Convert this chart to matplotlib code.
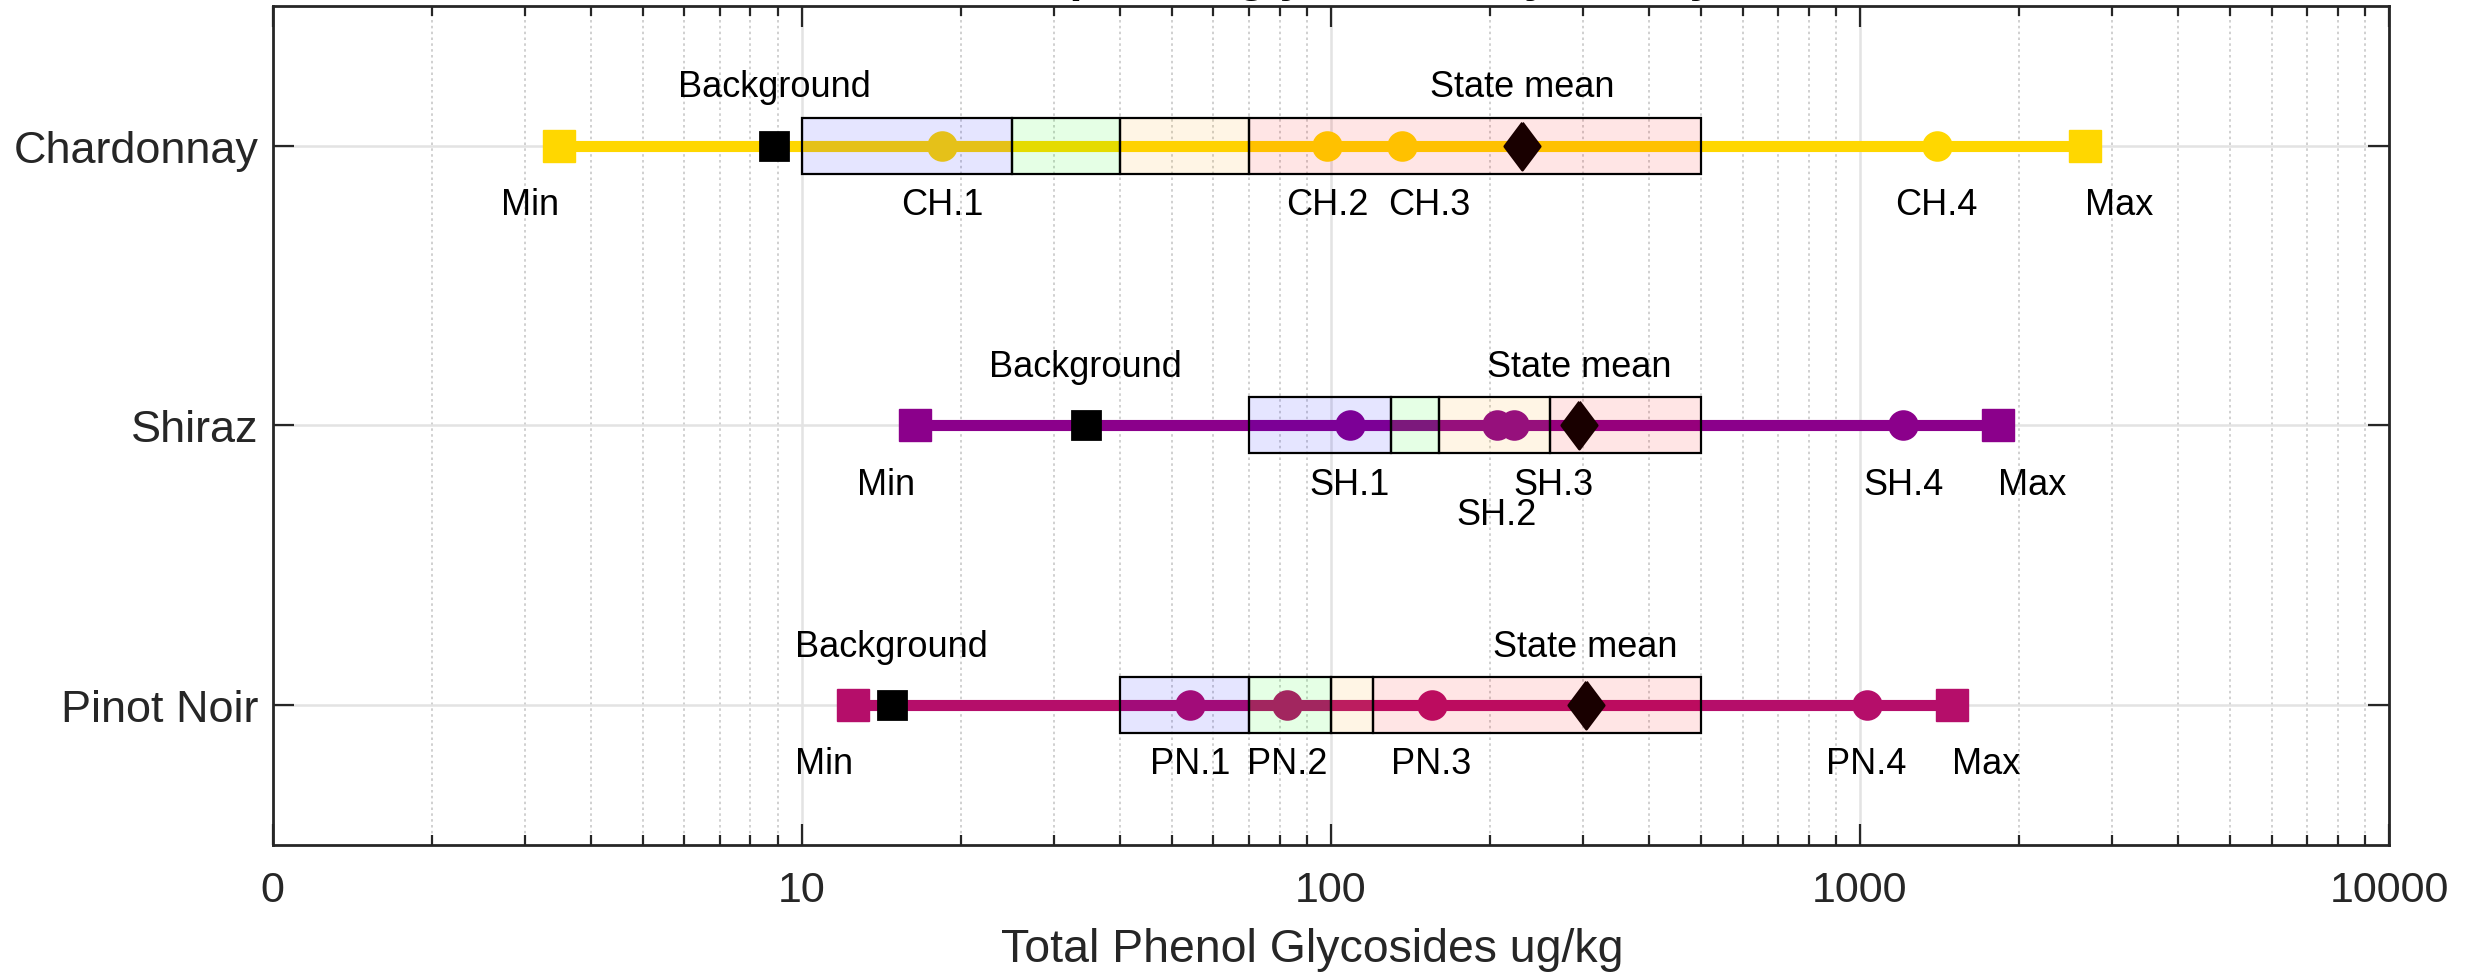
import numpy as np
import matplotlib
matplotlib.use("Agg")
import matplotlib.pyplot as plt
from matplotlib.patches import Rectangle
from matplotlib.ticker import FixedLocator, LogLocator, NullFormatter

plt.rcParams['font.family'] = ['Liberation Sans', 'DejaVu Sans']

varieties = ["Chardonnay", "Shiraz", "Pinot Noir"]
line_colors = ["#FFD700", "#8B008B", "#B50E6A"]
min_vals = [3.48, 16.4, 12.5]
max_vals = [2662, 1827, 1496]
background_vals = [8.86, 34.4, 14.8]
state_mean_vals = [230, 295, 303]
sample_labels = [["CH.1", "CH.2", "CH.3", "CH.4"],
                 ["SH.1", "SH.2", "SH.3", "SH.4"],
                 ["PN.1", "PN.2", "PN.3", "PN.4"]]
sample_vals = [[18.4, 98.3, 136, 1396],
               [108.6, 206, 222, 1208],
               [54.2, 82.6, 155, 1029]]
# category thresholds (low -> high) per variety
thresholds = [[10, 25, 40, 70, 500],
              [70, 130, 160, 260, 500],
              [40, 70, 100, 120, 500]]
box_colors = [(0, 0, 1, 0.1), (0, 1, 0, 0.1), (1, 0.65, 0, 0.1), (1, 0, 0, 0.1)]

xticks = [1, 10, 100, 1000, 10000]
xticklabels = ["0", "10", "100", "1000", "10000"]

# label nudges (points) so crowded sample labels don't overlap
label_nudge = {"CH.3": (10, 0), "SH.3": (14, 0), "SH.2": (0, -0.11)}

fig = plt.figure(figsize=(2479 / 200, 978 / 200), dpi=200)
ax = fig.add_axes([0.110, 0.135, 0.8537, 0.858])

diamond = [(0, 1), (0.75, 0), (0, -1), (-0.75, 0), (0, 1)]
ypos = [3, 2, 1]
txt_kw = dict(fontsize=13, color="black")

for i, var in enumerate(varieties):
    y = ypos[i]
    c = line_colors[i]
    ax.plot([min_vals[i], max_vals[i]], [y, y], color=c, lw=4, solid_capstyle='butt', zorder=3)
    ax.plot(sample_vals[i], [y] * len(sample_vals[i]), 'o', color=c, ms=10, mec=c, zorder=4)
    ax.plot([min_vals[i], max_vals[i]], [y, y], 's', color=c, ms=11.2, mec=c, mew=0.5, zorder=4)
    ax.plot(background_vals[i], y, 's', color='black', ms=10, zorder=4)
    ax.plot(state_mean_vals[i], y, marker=diamond, color='black', ms=17, ls='none', zorder=4)

    th = thresholds[i]
    for k in range(4):
        ax.add_patch(Rectangle((th[k], y - 0.1), th[k + 1] - th[k], 0.2,
                               facecolor=box_colors[k], edgecolor='black', lw=0.8, zorder=5))

    ax.text(min_vals[i], y - 0.21, "Min", ha='right', va='center', **txt_kw)
    ax.text(max_vals[i], y - 0.21, "Max", ha='left', va='center', **txt_kw)
    ax.text(background_vals[i], y + 0.21, "Background", ha='center', va='center', **txt_kw)
    ax.text(state_mean_vals[i], y + 0.21, "State mean", ha='center', va='center', **txt_kw)
    for lab, v in zip(sample_labels[i], sample_vals[i]):
        dx, dy = label_nudge.get(lab, (0, 0))
        ax.annotate(lab, (v, y - 0.21 + dy), xytext=(dx, 0), textcoords='offset points',
                    ha='center', va='center', **txt_kw)

ax.set_xscale('log')
ax.set_xlim(1, 10000)
ax.set_ylim(0.5, 3.5)
ax.xaxis.set_major_locator(FixedLocator(xticks))
ax.set_xticklabels(xticklabels)
ax.xaxis.set_minor_locator(LogLocator(base=10, subs=np.arange(2, 10)))
ax.xaxis.set_minor_formatter(NullFormatter())
ax.set_yticks(ypos)
ax.set_yticklabels(varieties)

ax.grid(True, which='major', axis='both', color='#e3e3e3', lw=0.9, zorder=0)
ax.grid(True, which='minor', axis='x', color='#c8c8c8', lw=0.6, ls=(0, (1.5, 2)), zorder=0)
ax.set_axisbelow(True)

ax.tick_params(which='both', direction='in', top=True, right=True, colors='#262626',
               labelsize=15.5, width=0.8)
ax.tick_params(which='major', length=7.6)
ax.tick_params(which='minor', length=3.6)
ax.tick_params(axis='x', which='major', pad=9)
ax.tick_params(axis='y', which='major', pad=5, labelsize=16.2)
for s in ax.spines.values():
    s.set_color('#262626')
    s.set_linewidth(1.0)

ax.set_xlabel("Total Phenol Glycosides ug/kg", fontsize=16.7, color='#262626')
ax.xaxis.set_label_coords(0.491, -0.098)

fig.text(0.537, 1 + 9 / 978, "Total phenol glycosides by variety", ha='center', va='baseline',
         fontsize=17, fontweight='bold', color='black')

fig.savefig("out.png", dpi=200)
